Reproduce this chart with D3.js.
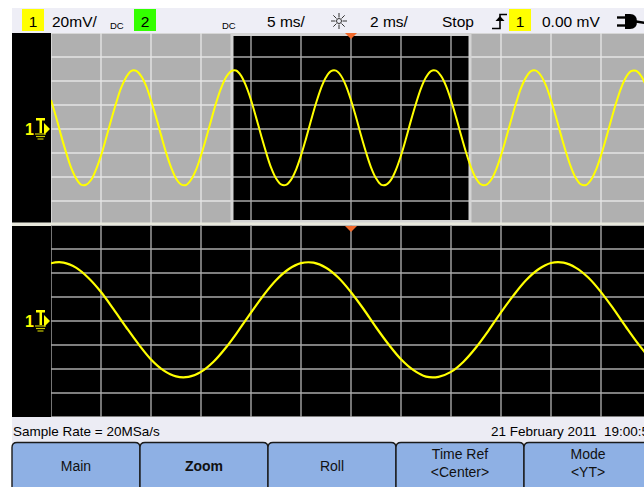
<!DOCTYPE html>
<html><head><meta charset="utf-8">
<script src="https://cdn.jsdelivr.net/npm/d3@7"></script>
<style>
html,body{margin:0;padding:0;background:#fff;}
svg{display:block;font-family:"Liberation Sans",Arial,sans-serif;}
</style></head>
<body>
<svg id="c" width="644" height="487"></svg>
<script>
// ---------- data ----------
const sampleStartMs = -30, sampleStepMs = 0.5;
// channel 1 voltage (mV) read every 0.5 ms from -30 ms to +30 ms
const ch1mV = [
 24.1, 10.2, -5.1, -19.3, -32.0, -41.0, -46.3, -46.5, -42.5, -33.8, -22.2, -7.9, 7.1, 21.3, 34.0, 43.0, 48.3, 48.5, 44.3, 36.1,
 23.9, 10.1, -4.9, -19.5, -31.8, -41.2, -46.1, -46.7, -42.3, -34.1, -22.0, -8.1, 6.9, 21.5, 33.8, 43.2, 48.1, 48.7, 44.5, 35.9,
 24.2, 9.9, -5.0, -19.3, -32.0, -41.1, -46.2, -46.6, -42.4, -34.0, -22.1, -8.0, 7.0, 21.4, 33.9, 43.1, 48.2, 48.6, 44.4, 36.0,
 24.0, 10.0, -5.2, -19.4, -31.9, -41.0, -46.3, -46.5, -42.4, -33.9, -22.1, -8.0, 7.2, 21.3, 33.9, 43.1, 48.3, 48.6, 44.3, 36.0,
 24.1, 10.1, -5.0, -19.4, -31.9, -41.2, -46.2, -46.6, -42.5, -34.0, -22.0, -7.9, 7.0, 21.4, 34.0, 43.0, 48.2, 48.6, 44.4, 36.1,
 24.1, 10.0, -5.1, -19.4, -31.8, -41.1, -46.2, -46.7, -42.4, -34.0, -22.1, -8.0, 7.0, 21.5, 33.9, 43.1, 48.2, 48.5, 44.4, 36.0,
 24.1
];
const mainDomainMs = [-30, 30];   // 5 ms/div, 12 div
const zoomDomainMs = [-12, 12];   // 2 ms/div, 12 div
const voltDomain = [-80, 80];     // 20 mV/div, 8 div
const mainTicks = d3.range(-30, 30.1, 5);
const zoomTicks = d3.range(-12, 12.1, 2);
const voltTicks = d3.range(-80, 80.1, 20);
const softkeys = [["Main"], ["Zoom"], ["Roll"], ["Time Ref", "<Center>"], ["Mode", "<YT>"]];
const statusLeft = "Sample Rate = 20MSa/s";
const statusRight = "21 February 2011  19:00:54";

const samples = ch1mV.map((v, i) => ({t: sampleStartMs + i * sampleStepMs, v}));

// ---------- layout ----------
const svg = d3.select("#c");
const W = 644;
const YELLOW = "#ffff00";
const plotL = 51, plotR = 651;
const upTop = 33, upBot = 225, loTop = 225, loBot = 417;

const xMain = d3.scaleLinear().domain(mainDomainMs).range([plotL, plotR]);
const xZoom = d3.scaleLinear().domain(zoomDomainMs).range([plotL, plotR]);
const yUp = d3.scaleLinear().domain(voltDomain).range([upBot, upTop]);
const yLo = d3.scaleLinear().domain(voltDomain).range([loBot, loTop]);

const defs = svg.append("defs");
defs.append("clipPath").attr("id","clipUp").append("rect")
  .attr("x", plotL).attr("y", upTop).attr("width", W - plotL).attr("height", upBot - upTop - 2);
defs.append("clipPath").attr("id","clipLo").append("rect")
  .attr("x", plotL).attr("y", loTop).attr("width", W - plotL).attr("height", loBot - loTop);

const root = svg.append("g");

// top bar
root.append("rect").attr("x",12).attr("y",8).attr("width",W-12).attr("height",25).attr("fill","#eeeef6");
// black screen region
root.append("rect").attr("x",12).attr("y",upTop).attr("width",W-12).attr("height",loBot-upTop).attr("fill","#000");

// ---- upper pane (main) ----
root.append("rect").attr("x",plotL).attr("y",upTop).attr("width",W-plotL).attr("height",upBot-upTop).attr("fill","#b0b0b0");
const gUp = root.append("g").attr("clip-path","url(#clipUp)");
gUp.append("g").selectAll("line").data(mainTicks).join("line")
  .attr("x1", d => xMain(d)).attr("x2", d => xMain(d)).attr("y1", upTop).attr("y2", upBot)
  .attr("stroke","#e4e4e4").attr("stroke-width",1.4);
gUp.append("g").selectAll("line").data(voltTicks).join("line")
  .attr("x1", plotL).attr("x2", plotR).attr("y1", d => yUp(d)).attr("y2", d => yUp(d))
  .attr("stroke","#e4e4e4").attr("stroke-width",1.4);
// zoom window
const wx0 = xMain(zoomDomainMs[0]), wx1 = xMain(zoomDomainMs[1]);
gUp.append("rect").attr("x", wx0).attr("y", upTop).attr("width", wx1 - wx0).attr("height", upBot - upTop)
  .attr("fill","#000");
gUp.append("g").selectAll("line").data(mainTicks.filter(d => xMain(d) > wx0 && xMain(d) < wx1)).join("line")
  .attr("x1", d => xMain(d)).attr("x2", d => xMain(d)).attr("y1", upTop).attr("y2", upBot)
  .attr("stroke","#a8a8a8").attr("stroke-width",1.4);
gUp.append("g").selectAll("line").data(voltTicks).join("line")
  .attr("x1", wx0).attr("x2", wx1).attr("y1", d => yUp(d)).attr("y2", d => yUp(d))
  .attr("stroke","#a8a8a8").attr("stroke-width",1.4);
gUp.append("rect").attr("x", wx0 + 1).attr("y", upTop + 1.5).attr("width", wx1 - wx0 - 2).attr("height", upBot - upTop - 5)
  .attr("fill","none").attr("stroke","#d4d4d4").attr("stroke-width",3);
const lineUp = d3.line().x(d => xMain(d.t)).y(d => yUp(d.v)).curve(d3.curveCatmullRom);
gUp.append("path").datum(samples).attr("d", lineUp)
  .attr("fill","none").attr("stroke",YELLOW).attr("stroke-width",2);

// separator
root.append("rect").attr("x",12).attr("y",222.5).attr("width",W-12).attr("height",3.5).attr("fill","#e8e8dc");

// ---- lower pane (zoom) ----
const gLo = root.append("g").attr("clip-path","url(#clipLo)");
gLo.append("g").selectAll("line").data(zoomTicks).join("line")
  .attr("x1", d => xZoom(d)).attr("x2", d => xZoom(d)).attr("y1", loTop).attr("y2", loBot)
  .attr("stroke","#a8a8a8").attr("stroke-width",1.4);
gLo.append("g").selectAll("line").data(voltTicks).join("line")
  .attr("x1", plotL).attr("x2", plotR).attr("y1", d => yLo(d)).attr("y2", d => yLo(d))
  .attr("stroke","#a8a8a8").attr("stroke-width",1.4);
const lineLo = d3.line().x(d => xZoom(d.t)).y(d => yLo(d.v)).curve(d3.curveCatmullRom);
gLo.append("path").datum(samples.filter(d => d.t >= zoomDomainMs[0] - 1 && d.t <= zoomDomainMs[1] + 1)).attr("d", lineLo)
  .attr("fill","none").attr("stroke",YELLOW).attr("stroke-width",2.2);

// orange time reference markers
const cxRef = xMain(0);
[upTop, 226].forEach(y => {
  root.append("path").attr("d", `M${cxRef-6},${y} L${cxRef+6},${y} L${cxRef},${y+6} Z`).attr("fill","#f26a2c");
});

// ground markers
function groundMarker(yc) {
  const g = root.append("g");
  g.append("text").attr("x", 25).attr("y", yc + 5.5).text("1")
    .attr("font-size", 16).attr("font-weight","bold").attr("fill", YELLOW);
  g.append("rect").attr("x", 36).attr("y", yc - 11).attr("width", 9).attr("height", 2.5).attr("fill", YELLOW);
  g.append("rect").attr("x", 39.5).attr("y", yc - 10).attr("width", 2.5).attr("height", 14).attr("fill", YELLOW);
  g.append("path").attr("d", `M44,${yc-6} L50,${yc} L44,${yc+6} Z`).attr("fill", YELLOW);
  [[35,46,5],[36,45,7.5],[37.5,43.5,10]].forEach(([a,b,o]) => {
    g.append("line").attr("x1",a).attr("x2",b).attr("y1",yc+o).attr("y2",yc+o)
      .attr("stroke","#c8c800").attr("stroke-width",1.2);
  });
}
groundMarker(yUp(0));
groundMarker(yLo(0));

// ---- top bar contents ----
const topBar = root.append("g").attr("font-size", 15.5).attr("fill","#000");
function box(x, fill, label) {
  topBar.append("rect").attr("x", x).attr("y", 9).attr("width", 22).attr("height", 22).attr("fill", fill);
  topBar.append("text").attr("x", x + 11).attr("y", 26.5).attr("text-anchor","middle").text(label);
}
box(22, YELLOW, "1");
topBar.append("text").attr("x", 52).attr("y", 26.5).text("20mV/");
topBar.append("text").attr("x", 110).attr("y", 29).attr("font-size", 9.5).text("DC");
box(134, "#33ff00", "2");
topBar.append("text").attr("x", 222).attr("y", 29).attr("font-size", 9.5).text("DC");
topBar.append("text").attr("x", 267).attr("y", 26.5).text("5 ms/");
const sun = topBar.append("g").attr("transform","translate(339,21)").attr("stroke","#333").attr("stroke-width",1);
d3.range(0, 360, 45).forEach(a => {
  const r = a * Math.PI / 180;
  sun.append("line").attr("x1", 3.5*Math.cos(r)).attr("y1", 3.5*Math.sin(r))
    .attr("x2", 8*Math.cos(r)).attr("y2", 8*Math.sin(r));
});
sun.append("circle").attr("r", 2.5).attr("fill","none");
topBar.append("text").attr("x", 370).attr("y", 26.5).text("2 ms/");
topBar.append("text").attr("x", 442).attr("y", 26.5).text("Stop");
topBar.append("path").attr("d","M492,28.5 L500,28.5 L500,14.5 L507,14.5").attr("fill","none").attr("stroke","#000").attr("stroke-width",1.6);
topBar.append("path").attr("d","M495.5,21 L500,16 L504.5,21 Z").attr("fill","#000");
box(509, YELLOW, "1");
topBar.append("text").attr("x", 542).attr("y", 26.5).text("0.00 mV");
const plug = topBar.append("g");
plug.append("line").attr("x1",617).attr("x2",627).attr("y1",17.5).attr("y2",17.5).attr("stroke","#000").attr("stroke-width",2.4);
plug.append("line").attr("x1",617).attr("x2",627).attr("y1",25.5).attr("y2",25.5).attr("stroke","#000").attr("stroke-width",2.4);
plug.append("path").attr("d","M625,14 L630,14 Q637,14 637,21.5 Q637,29 630,29 L625,29 Z").attr("fill","#000");
plug.append("line").attr("x1",636).attr("x2",646).attr("y1",21.5).attr("y2",23).attr("stroke","#000").attr("stroke-width",2.4);

// ---- status bar ----
root.append("rect").attr("x",12).attr("y",loBot).attr("width",W-12).attr("height",27).attr("fill","#ececf4");
root.append("text").attr("x",13).attr("y",435.5).attr("font-size",13.5).attr("fill","#000").text(statusLeft);
root.append("text").attr("x",491).attr("y",435.5).attr("font-size",13.5).attr("fill","#000")
  .style("white-space","pre").text(statusRight);

// ---- softkeys ----
const kx = d3.scaleBand().domain(d3.range(softkeys.length)).range([12, 652]);
const keys = root.append("g");
softkeys.forEach((lab, i) => {
  const x0 = kx(i), x1 = x0 + kx.bandwidth(), y0 = 442.5;
  keys.append("path")
    .attr("d", `M${x0},490 L${x0},${y0+5} Q${x0},${y0} ${x0+5},${y0} L${x1-5},${y0} Q${x1},${y0} ${x1},${y0+5} L${x1},490`)
    .attr("fill","#8eb0e4").attr("stroke","#1a1a1a").attr("stroke-width",1.4);
  const cxk = (x0 + x1) / 2;
  if (lab.length === 1) {
    keys.append("text").attr("x", cxk).attr("y", 471).attr("text-anchor","middle")
      .attr("font-size", 14).attr("font-weight", lab[0] === "Zoom" ? "bold" : "normal").attr("fill","#111").text(lab[0]);
  } else {
    keys.append("text").attr("x", cxk).attr("y", 458.5).attr("text-anchor","middle").attr("font-size",14).attr("fill","#111").text(lab[0]);
    keys.append("text").attr("x", cxk).attr("y", 476.5).attr("text-anchor","middle").attr("font-size",14).attr("fill","#111").text(lab[1]);
  }
});
</script>
</body></html>
